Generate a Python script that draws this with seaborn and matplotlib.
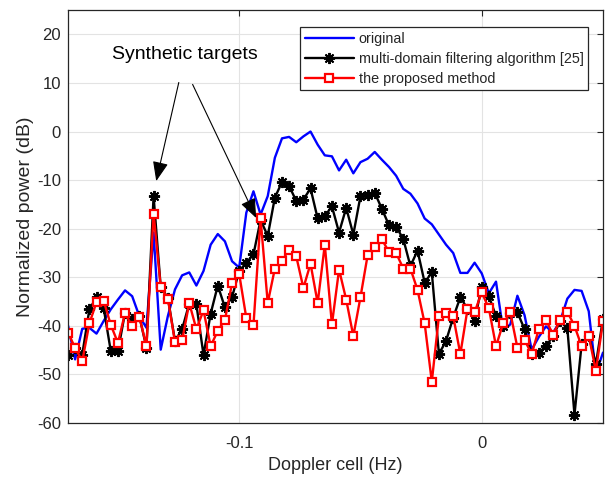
import numpy as np
import pandas as pd
import matplotlib
matplotlib.use("Agg")
import matplotlib.pyplot as plt
import seaborn as sns

# Doppler bins: k / 340 Hz for k = -58 .. 17
doppler_bins = np.arange(-58, 18)
doppler_hz = doppler_bins / 340.0

original = [-39.9, -46.9, -40.6, -40.4, -41.6, -39.0, -36.6, -34.6, -32.7, -33.9,
            -38.0, -40.4, -20.8, -44.9, -38.0, -32.5, -29.6, -29.0, -31.7, -28.7,
            -23.3, -21.1, -22.6, -26.7, -28.0, -16.7, -12.3, -17.1, -13.3, -5.4,
            -1.4, -1.1, -2.2, -1.0, 0.0, -2.7, -4.9, -5.1, -8.0, -5.8,
            -8.6, -6.3, -5.6, -4.2, -5.8, -7.3, -9.1, -11.8, -12.8, -14.8,
            -17.9, -19.1, -21.2, -23.3, -25.0, -29.1, -29.1, -27.0, -29.2, -33.3,
            -30.9, -40.9, -39.7, -33.8, -37.8, -44.9, -42.3, -40.1, -41.4, -39.0,
            -34.4, -32.6, -32.8, -37.0, -49.8, -45.5]

multi_domain = [-45.9, -44.5, -45.9, -36.6, -34.1, -36.3, -45.2, -45.2, -37.3, -38.6,
                -38.0, -44.5, -13.3, -32.0, -34.2, -43.1, -40.7, -35.4, -35.6, -46.0,
                -37.5, -31.7, -36.2, -34.1, -28.7, -27.0, -25.3, -18.2, -21.5, -13.6,
                -10.4, -11.2, -14.3, -14.0, -11.7, -17.9, -17.4, -15.4, -20.8, -15.7,
                -21.2, -13.3, -13.0, -12.6, -15.9, -19.3, -19.6, -22.1, -27.7, -24.5,
                -31.1, -29.0, -45.8, -43.1, -38.3, -34.1, -36.5, -38.9, -31.9, -33.9,
                -38.0, -40.1, -37.3, -37.2, -40.7, -45.8, -45.5, -44.2, -42.1, -39.0,
                -40.5, -58.3, -43.8, -42.0, -47.9, -38.5]

proposed = [-41.4, -44.5, -47.3, -39.5, -35.1, -34.8, -39.8, -43.5, -37.4, -40.1,
            -38.1, -44.2, -16.9, -32.0, -34.4, -43.3, -43.0, -35.3, -40.7, -36.8,
            -44.2, -41.0, -38.8, -31.2, -29.3, -38.4, -39.9, -17.9, -35.3, -28.2,
            -26.6, -24.3, -25.7, -32.2, -27.2, -35.3, -23.3, -39.7, -28.4, -34.6,
            -42.1, -34.1, -25.5, -23.8, -22.2, -24.8, -25.0, -28.2, -28.2, -32.6,
            -39.5, -51.5, -38.0, -37.3, -38.0, -45.8, -36.6, -37.2, -33.1, -36.4,
            -44.2, -39.5, -37.2, -44.5, -42.9, -45.8, -40.7, -38.8, -41.8, -38.8,
            -37.1, -40.0, -44.2, -42.0, -49.3, -39.0]

series_names = ["original", "multi-domain filtering algorithm [25]", "the proposed method"]
x_ticks = [-0.1, 0.0]
x_tick_labels = ["-0.1", "0"]
y_ticks = list(range(-60, 21, 10))

df = pd.DataFrame({
    "Doppler": np.tile(doppler_hz, 3),
    "Power": np.concatenate([original, multi_domain, proposed]),
    "Series": np.repeat(series_names, len(doppler_hz)),
})

sns.set_theme(style="white")
plt.rcParams["font.family"] = ["Liberation Sans", "DejaVu Sans"]
plt.rcParams["axes.unicode_minus"] = False

fig = plt.figure(figsize=(6.08, 4.79), dpi=100)
ax = fig.add_axes([0.1118, 0.1169, 0.8800, 0.8620])

styles = {
    series_names[0]: dict(color="#0000ff", marker=None),
    series_names[1]: dict(color="black", marker=(8, 2, 0), markersize=8,
                          markeredgewidth=1.4, markeredgecolor="black"),
    series_names[2]: dict(color="#ff0000", marker="s", markersize=6,
                          markerfacecolor="white", markeredgecolor="#ff0000",
                          markeredgewidth=1.6),
}

for name in series_names:
    sub = df[df["Series"] == name]
    sns.lineplot(data=sub, x="Doppler", y="Power", ax=ax, label=name,
                 linewidth=1.7, estimator=None, sort=False, **styles[name])

ax.set_xlim(doppler_hz[0], doppler_hz[-1])
ax.set_ylim(-60, 25)
ax.set_xticks(x_ticks)
ax.set_xticklabels(x_tick_labels)
ax.set_yticks(y_ticks)
ax.grid(True, color="#e3e3e3", linewidth=0.8)
ax.set_axisbelow(True)
ax.tick_params(direction="in", length=4, width=0.8, colors="#262626",
               labelsize=12, top=True, right=True, pad=5)
ax.tick_params(axis="x", pad=9)
for sp in ax.spines.values():
    sp.set_color("#262626")
    sp.set_linewidth(0.9)

ax.set_xlabel("Doppler cell (Hz)", fontsize=13, color="#262626", labelpad=5)
ax.set_ylabel("Normalized power (dB)", fontsize=14, color="#262626", labelpad=2)

leg = ax.legend(loc="upper right", bbox_to_anchor=(0.972, 0.958), fontsize=10.4,
                frameon=True, fancybox=False, handlelength=3.4, borderpad=0.3,
                labelspacing=0.42, handletextpad=0.35, borderaxespad=0.0)
leg.get_frame().set_edgecolor("#262626")
leg.get_frame().set_linewidth(0.9)
leg.get_frame().set_alpha(1.0)

ax.text(-0.1222, 15.9, "Synthetic targets", fontsize=14, ha="center", va="center",
        color="black")
arrow = dict(arrowstyle="-|>,head_length=1.0,head_width=0.4", color="black",
             lw=0.8, shrinkA=0, shrinkB=0)
ax.annotate("", xy=(-0.1342, -10.2), xytext=(-0.1249, 10.1), arrowprops=arrow)
ax.annotate("", xy=(-0.0930, -17.8), xytext=(-0.1192, 9.7), arrowprops=arrow)

fig.savefig("out.png", dpi=100)
